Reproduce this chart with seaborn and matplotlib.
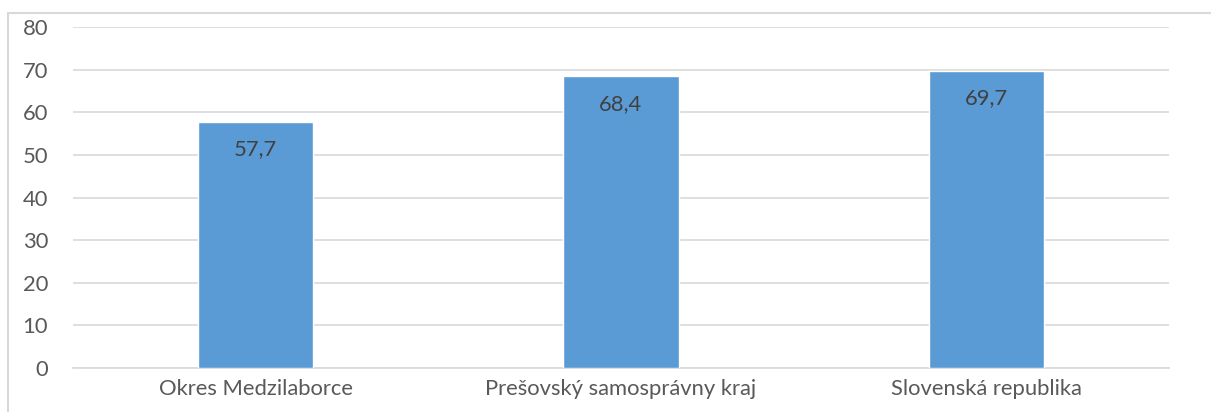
import numpy as np
import pandas as pd
import matplotlib
matplotlib.use('Agg')
import matplotlib.pyplot as plt
import seaborn as sns
from matplotlib.patches import Rectangle

sns.set_style('white')
plt.rcParams['font.family'] = ['Lato', 'DejaVu Sans']

# data
categories = ['Okres Medzilaborce', 'Prešovský samosprávny kraj', 'Slovenská republika']
values = [57.7, 68.4, 69.7]
labels = ['57,7', '68,4', '69,7']

df = pd.DataFrame({'kat': categories, 'hodnota': values})

fig = plt.figure(figsize=(12.11, 4.12), dpi=100)
ax = fig.add_axes([73 / 1211, 1 - 368 / 412, (1169 - 73) / 1211, (368 - 27) / 412])

sns.barplot(data=df, x='kat', y='hodnota', color='#5B9BD5', width=0.315,
            saturation=1, ax=ax, zorder=3)

ax.set_ylim(0, 80)
ax.set_yticks(np.arange(0, 81, 10))
ax.set_xlim(-0.5, 2.5)
ax.grid(axis='y', color='#D9D9D9', linewidth=1.2, zorder=0)
for s in ['top', 'right', 'left']:
    ax.spines[s].set_visible(False)
ax.spines['bottom'].set_color('#D9D9D9')
ax.spines['bottom'].set_linewidth(1.2)
ax.tick_params(axis='both', length=0, labelsize=15.8, colors='#595959', pad=8)
ax.tick_params(axis='y', pad=18)
ax.set_xlabel('')
ax.set_ylabel('')

for i, (v, t) in enumerate(zip(values, labels)):
    ax.annotate(t, (i, v), xytext=(0, -12.5), textcoords='offset points',
                ha='center', va='top', fontsize=15.8, color='#404040', zorder=4)

# ramik grafu
fig.patches.append(Rectangle((8 / 1211, -0.1), 1.2, 1 - 13 / 412 + 0.1,
                             transform=fig.transFigure, fill=False,
                             edgecolor='#D9D9D9', linewidth=1.5))

fig.savefig('out.png', dpi=100)
